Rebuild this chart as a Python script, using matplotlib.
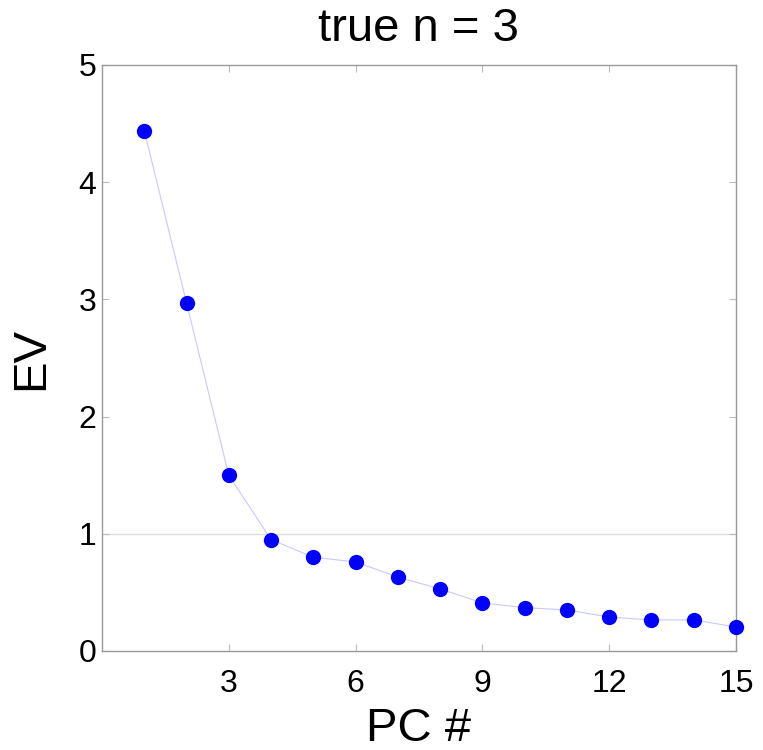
import matplotlib.pyplot as plt

plt.rcParams['font.family'] = ['Liberation Sans', 'DejaVu Sans']

# eigenvalue per principal component
pc = [1, 2, 3, 4, 5, 6, 7, 8, 9, 10, 11, 12, 13, 14, 15]
ev = [4.44, 2.97, 1.50, 0.95, 0.80, 0.76, 0.63, 0.53, 0.41,
      0.37, 0.35, 0.29, 0.265, 0.265, 0.205]
xticks = [3, 6, 9, 12, 15]
yticks = [0, 1, 2, 3, 4, 5]

fig = plt.figure(figsize=(7.63, 7.5), dpi=100)
ax = fig.add_axes([102 / 763, 1 - 651 / 750, 634 / 763, 586 / 750])

# Kaiser criterion line
ax.axhline(1, color='#dddddd', lw=1, zorder=1)
ax.plot(pc, ev, '-', color='#c8c8ff', lw=0.8, zorder=2)
ax.plot(pc, ev, 'o', color='#0000ff', ms=11, mec='none', zorder=3, clip_on=False)

ax.set_xlim(0, 15)
ax.set_ylim(0, 5)
ax.set_xticks(xticks)
ax.set_yticks(yticks)
ax.tick_params(direction='in', length=5, color='#bbbbbb', labelsize=23,
               top=True, right=True)
ax.tick_params(axis='x', pad=13)
ax.tick_params(axis='y', pad=4)
for s in ax.spines.values():
    s.set_color('#999999')
    s.set_linewidth(1)

ax.set_title('true n = 3', fontsize=34, pad=17)
ax.set_xlabel('PC #', fontsize=34, labelpad=6)
ax.set_ylabel('EV', fontsize=34, labelpad=18)

fig.savefig('out.png', dpi=100)
